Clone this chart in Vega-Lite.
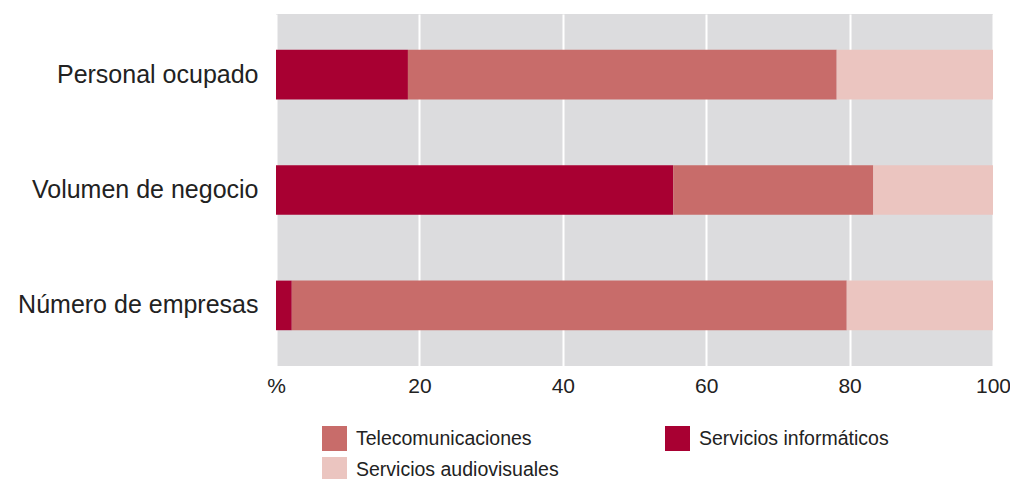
{
  "$schema": "https://vega.github.io/schema/vega-lite/v6.json",
  "width": 717,
  "height": 352,
  "autosize": {"type": "none"},
  "padding": {"left": 276, "top": 14, "right": 17, "bottom": 113},
  "background": "white",
  "config": {
    "view": {"fill": "#dcdcde", "stroke": null},
    "font": "Liberation Sans"
  },
  "data": {
    "values": [
      {"indicador": "Personal ocupado", "sector": "Servicios informáticos", "orden": 1, "valor": 18.4},
      {"indicador": "Personal ocupado", "sector": "Telecomunicaciones", "orden": 2, "valor": 59.8},
      {"indicador": "Personal ocupado", "sector": "Servicios audiovisuales", "orden": 3, "valor": 21.8},
      {"indicador": "Volumen de negocio", "sector": "Servicios informáticos", "orden": 1, "valor": 55.4},
      {"indicador": "Volumen de negocio", "sector": "Telecomunicaciones", "orden": 2, "valor": 27.9},
      {"indicador": "Volumen de negocio", "sector": "Servicios audiovisuales", "orden": 3, "valor": 16.7},
      {"indicador": "Número de empresas", "sector": "Servicios informáticos", "orden": 1, "valor": 2.2},
      {"indicador": "Número de empresas", "sector": "Telecomunicaciones", "orden": 2, "valor": 77.4},
      {"indicador": "Número de empresas", "sector": "Servicios audiovisuales", "orden": 3, "valor": 20.4}
    ]
  },
  "mark": {"type": "bar"},
  "encoding": {
    "y": {
      "field": "indicador",
      "type": "nominal",
      "sort": ["Personal ocupado", "Volumen de negocio", "Número de empresas"],
      "scale": {"paddingInner": 0.57, "paddingOuter": 0.31},
      "axis": {
        "title": null,
        "ticks": false,
        "domain": false,
        "labelFontSize": 25,
        "labelColor": "#222222",
        "labelPadding": 18,
        "labelLimit": 300
      }
    },
    "x": {
      "field": "valor",
      "type": "quantitative",
      "stack": "zero",
      "scale": {"domain": [0, 100], "nice": false},
      "axis": {
        "title": null,
        "values": [0, 20, 40, 60, 80, 100],
        "labelExpr": "datum.value == 0 ? '%' : datum.label",
        "ticks": false,
        "domain": false,
        "grid": true,
        "gridColor": "white",
        "gridWidth": 2,
        "gridOpacity": 1,
        "labelFontSize": 21,
        "labelColor": "#222222",
        "labelPadding": 9,
        "labelFlush": false
      }
    },
    "order": {"field": "orden", "type": "quantitative"},
    "color": {
      "field": "sector",
      "type": "nominal",
      "scale": {
        "domain": ["Telecomunicaciones", "Servicios audiovisuales", "Servicios informáticos"],
        "range": ["#c86c6a", "#ebc5c0", "#a80032"]
      },
      "legend": {
        "title": null,
        "orient": "none",
        "legendX": 46,
        "legendY": 412,
        "columns": 2,
        "columnPadding": 106,
        "rowPadding": 6,
        "symbolType": "square",
        "symbolSize": 625,
        "symbolStrokeWidth": 0,
        "symbolOpacity": 1,
        "labelFontSize": 19.5,
        "labelColor": "#222222",
        "labelOffset": 9,
        "labelLimit": 400
      }
    }
  }
}
